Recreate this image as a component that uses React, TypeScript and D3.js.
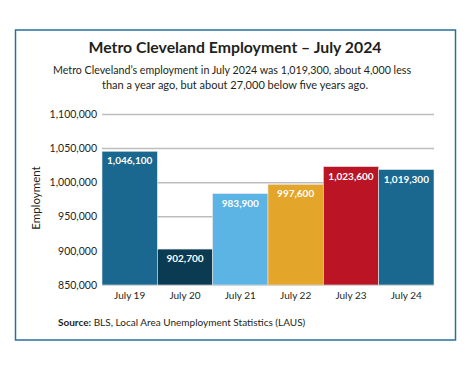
import React from "react";
import * as d3 from "d3";

const months = ["July 19", "July 20", "July 21", "July 22", "July 23", "July 24"];
const employment = [1046100, 902700, 983900, 997600, 1023600, 1019300];
const barColors = ["#1a6890", "#0b3b52", "#5cb4e4", "#e3a52a", "#bb1424", "#1a6890"];
const yTicks = [850000, 900000, 950000, 1000000, 1050000, 1100000];

const W = 470;
const H = 365;
const font = "Lato, 'Open Sans', sans-serif";

const App: React.FC = () => {
  const x = d3.scaleBand<string>().domain(months).range([102, 434]).padding(0);
  const y = d3.scaleLinear().domain([850000, 1100000]).range([285, 114.5]);
  const fmt = d3.format(",");

  return (
    <svg width={W} height={H} style={{ position: "absolute", left: 0, top: 0 }} fontFamily={font}>
      <rect x={0} y={0} width={W} height={H} fill="#fff" />
      <rect x={15.5} y={30} width={440} height={310} fill="#fff" stroke="#2a6f98" strokeWidth={1.5} />

      <text x={235} y={53} textAnchor="middle" fontSize={15.8} fontWeight={700} fill="#231f20">
        Metro Cleveland Employment – July 2024
      </text>
      <text x={232} y={74} textAnchor="middle" fontSize={11.8} fill="#231f20" textLength={358} lengthAdjust="spacingAndGlyphs">
        Metro Cleveland’s employment in July 2024 was 1,019,300, about 4,000 less
      </text>
      <text x={235} y={89} textAnchor="middle" fontSize={11.8} fill="#231f20" textLength={266} lengthAdjust="spacingAndGlyphs">
        than a year ago, but about 27,000 below five years ago.
      </text>

      {yTicks.map((t) => (
        <g key={t}>
          <line x1={102} x2={434} y1={y(t)} y2={y(t)} stroke="#bdbdbd" strokeWidth={1.5} />
          <text x={97} y={y(t)} dy="0.35em" textAnchor="end" fontSize={10.5} fill="#231f20">
            {fmt(t)}
          </text>
        </g>
      ))}

      <text
        transform={`translate(40,${198}) rotate(-90)`}
        textAnchor="middle"
        fontSize={11.5}
        fill="#231f20"
      >
        Employment
      </text>

      {months.map((m, i) => (
        <g key={m}>
          <rect
            x={x(m)!}
            y={y(employment[i])}
            width={x.bandwidth()}
            height={y(850000) - y(employment[i])}
            fill={barColors[i]}
            stroke="#e6e6e6"
            strokeWidth={0.6}
          />
          <text
            x={x(m)! + x.bandwidth() / 2}
            y={y(employment[i]) + 13}
            textAnchor="middle"
            fontSize={10}
            fontWeight={700}
            fill="#fff"
          >
            {fmt(employment[i])}
          </text>
          <text
            x={x(m)! + x.bandwidth() / 2}
            y={299}
            textAnchor="middle"
            fontSize={10}
            fill="#231f20"
          >
            {m}
          </text>
        </g>
      ))}

      <text x={58} y={326} fontSize={10} fill="#231f20">
        <tspan fontWeight={700}>Source:</tspan> BLS, Local Area Unemployment Statistics (LAUS)
      </text>
    </svg>
  );
};

export default App;
